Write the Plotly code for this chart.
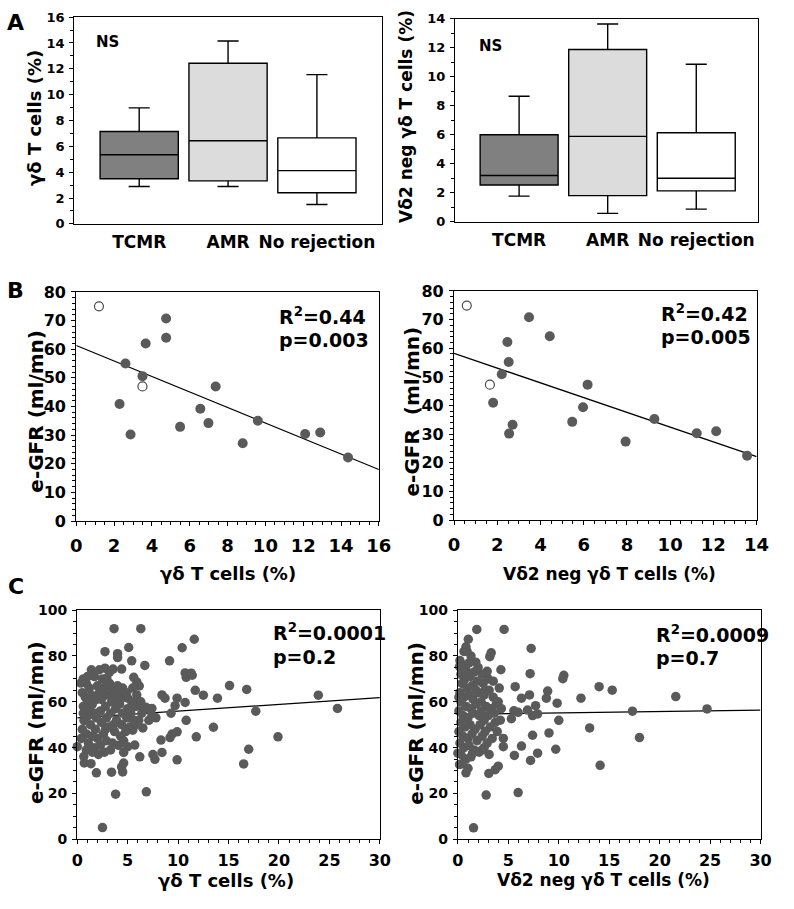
import plotly.graph_objects as go

# ---------------- Panel A data (box plots) ----------------
groups = ["TCMR", "AMR", "No rejection"]
group_pos = [1, 2, 3]
group_colors = ["#808080", "#dcdcdc", "#ffffff"]

gd_low = [2.9, 2.9, 1.5]
gd_q1 = [3.5, 3.33, 2.41]
gd_med = [5.35, 6.43, 4.12]
gd_q3 = [7.15, 12.43, 6.66]
gd_high = [8.98, 14.15, 11.55]

vd2_low = [1.77, 0.58, 0.87]
vd2_q1 = [2.54, 1.80, 2.13]
vd2_med = [3.19, 5.89, 3.0]
vd2_q3 = [6.0, 11.88, 6.14]
vd2_high = [8.66, 13.64, 10.86]

# ---------------- Panel B data ----------------
bL_x = [4.75, 4.75, 3.67, 2.6, 3.5, 2.29, 2.87, 7.37, 6.56, 6.99, 5.49, 8.8, 9.6, 12.1, 12.9, 14.37]
bL_y = [70.7, 64, 62, 55, 50.6, 40.9, 30.2, 47, 39.2, 34.2, 32.9, 27.2, 35, 30.4, 30.9, 22.2]
bL_open_x = [1.2, 3.5]
bL_open_y = [75, 47]
bL_fit_x = [0, 16]
bL_fit_y = [61.3, 18.0]

bR_x = [3.47, 4.43, 2.47, 2.53, 2.21, 1.81, 2.55, 2.71, 6.18, 5.97, 5.47, 7.94, 9.27, 11.23, 12.13, 13.56]
bR_y = [70.8, 64.2, 62.2, 55.2, 50.9, 41, 30.2, 33.3, 47.3, 39.4, 34.3, 27.4, 35.3, 30.3, 31, 22.5]
bR_open_x = [0.59, 1.66]
bR_open_y = [74.9, 47.3]
bR_fit_x = [0, 14]
bR_fit_y = [58.2, 22.2]

# ---------------- Panel C data ----------------
cL_points = [
    (3.65, 91.9), (6.3, 91.9), (11.6, 87.3), (2.75, 81.9), (5.1, 83.7), (4.0, 81), (4.0, 79.3),
    (5.4, 77.9), (6.7, 75.9), (9.15, 77.9), (10.4, 83.6), (2.75, 74.7), (3.55, 74.3), (4.4, 74.3),
    (1.03, 71.1), (5.6, 70.7), (5.9, 68.7), (6.15, 66.9), (10.7, 72.6), (10.8, 70.7), (11.4, 71.6),
    (11.7, 65), (12.5, 62.9), (15.1, 67.1), (16.8, 65.4), (13.9, 61.6), (8.4, 63), (8.7, 61.6),
    (9.9, 61.6), (10.7, 59.7), (5.0, 61.6), (6.0, 60), (7.0, 57.1), (7.4, 57.1), (7.8, 53),
    (9.3, 55), (9.7, 58.3), (10.8, 51.9), (17.7, 55.9), (23.9, 62.9), (25.8, 57.1), (13.5, 48.9),
    (11.8, 44.7), (19.9, 44.7), (17.0, 39.3), (16.5, 32.9), (9.9, 34.7), (9.2, 44.4), (9.4, 45.9),
    (9.9, 46.9), (8.3, 43.3), (8.4, 37.9), (7.5, 37), (7.7, 34.9), (6.2, 36), (5.7, 41.1),
    (5.0, 40.4), (4.6, 37.9), (4.6, 33.3), (4.4, 31.6), (4.5, 29.4), (3.4, 29.3), (1.9, 29),
    (0.7, 33.3), (1.36, 33), (0.65, 36.1), (0.0, 40.4), (3.8, 19.7), (6.85, 20.7), (2.5, 5.1),
    (5.5, 47.6), (5.7, 49.7), (6.5, 48.6), (7.1, 51.9), (7.4, 54), (6.8, 57.6), (0.36, 68.2),
    (2.93, 70.4), (3.1, 68.2), (2.93, 66.8), (11.3, 72.5), (0.68, 51.8),
    (0.6, 70), (0.9, 68), (1.2, 66), (0.5, 64), (0.8, 62), (1.4, 63), (1.0, 60), (0.6, 58),
    (1.5, 59), (1.9, 61), (2.2, 64), (2.6, 66), (2.0, 67), (3.0, 63), (3.4, 60), (2.8, 58),
    (2.3, 56), (1.7, 55), (1.1, 54), (0.7, 52), (1.3, 50), (1.8, 48), (2.4, 51), (2.9, 53),
    (3.3, 55), (3.8, 57), (4.2, 59), (4.6, 62), (4.0, 64), (3.6, 66), (3.2, 68), (2.5, 70),
    (1.7, 71), (3.9, 52), (4.4, 50), (4.9, 53), (5.3, 55), (5.6, 52), (5.2, 49), (4.8, 47),
    (4.3, 45), (3.7, 47), (3.1, 49), (2.6, 46), (2.0, 44), (1.5, 45), (0.9, 46), (0.5, 48),
    (0.4, 44), (1.1, 42), (1.7, 40), (2.3, 41), (2.9, 43), (3.5, 42), (4.1, 41), (4.6, 43),
    (3.3, 39), (2.7, 38), (2.1, 37), (1.5, 38), (0.9, 39), (6.1, 52), (6.4, 55), (5.8, 58),
    (5.4, 60), (5.0, 57), (4.5, 55), (3.9, 61), (3.5, 64), (2.4, 61), (1.9, 53), (1.2, 57),
    (0.6, 55), (2.8, 48), (3.6, 50), (4.0, 67), (4.5, 66), (2.2, 74), (3.2, 73), (1.4, 74),
    (5.9, 63), (6.3, 60), (4.9, 64), (5.5, 66), (6.6, 57),
]
cL_fit_x = [0, 30]
cL_fit_y = [53.0, 61.8]

cR_points = [
    (1.87, 91.6), (4.58, 91.6), (1.03, 87.3), (0.8, 84), (0.9, 82.1), (7.26, 83.3), (3.3, 81.4),
    (3.16, 79.7), (0.16, 75.4), (1.77, 77.3), (2.9, 73.3), (4.26, 74), (7.16, 72.3), (10.5, 71.6),
    (10.4, 70.1), (5.68, 66.6), (14.0, 66.6), (15.3, 65.1), (21.6, 62.3), (8.9, 64.7), (8.77, 61.6),
    (7.1, 63), (6.3, 61.6), (9.84, 59.4), (12.2, 61.6), (7.7, 58.3), (17.3, 55.9), (24.7, 56.9),
    (5.55, 56.1), (5.3, 52.6), (5.97, 55.4), (6.9, 56.4), (7.4, 54), (7.9, 54.7), (10.0, 51.9),
    (13.06, 48.6), (18.0, 44.4), (9.03, 46.4), (7.4, 45.4), (9.7, 39.3), (7.9, 37.6), (7.2, 34.4),
    (6.3, 40.7), (5.6, 36.6), (4.5, 44), (4.5, 40.4), (4.0, 31.9), (3.7, 30.4), (3.06, 28.7),
    (14.1, 32.3), (2.8, 19.3), (5.97, 20.4), (1.55, 5), (0.8, 29), (0.16, 32.6), (0.0, 37.6),
    (1.45, 37.6), (2.4, 39),
    (0.2, 78), (0.5, 76), (0.8, 74), (1.1, 77), (0.3, 72), (0.7, 70), (1.2, 71), (1.6, 73),
    (2.0, 75), (2.4, 72), (0.4, 68), (0.9, 66), (1.4, 67), (1.9, 69), (2.5, 68), (3.0, 70),
    (0.2, 64), (0.6, 62), (1.1, 63), (1.5, 61), (2.0, 64), (2.6, 63), (3.1, 65), (3.5, 62),
    (0.3, 60), (0.8, 58), (1.3, 57), (1.8, 59), (2.3, 60), (2.8, 58), (3.3, 57), (3.8, 59),
    (0.1, 56), (0.5, 54), (1.0, 53), (1.5, 55), (2.1, 54), (2.6, 52), (3.0, 54), (3.6, 55),
    (0.3, 51), (0.7, 49), (1.2, 50), (1.7, 48), (2.2, 50), (2.7, 47), (3.2, 49), (3.7, 51),
    (0.1, 47), (0.5, 45), (1.0, 44), (1.4, 46), (1.9, 43), (2.4, 45), (2.9, 42), (3.4, 44),
    (0.2, 42), (0.6, 40), (1.1, 41), (1.6, 39), (2.1, 38), (2.6, 40), (3.1, 37), (0.3, 37),
    (0.8, 35), (1.3, 36), (0.4, 33), (1.0, 31), (4.0, 60), (4.3, 57), (3.9, 47), (4.2, 52),
    (2.7, 65), (1.3, 80), (0.6, 82), (3.5, 69), (4.1, 66), (0.1, 62), (1.8, 65), (2.3, 56),
]
cR_fit_x = [0, 30]
cR_fit_y = [54.5, 56.4]

cL_x = [p[0] for p in cL_points]
cL_y = [p[1] for p in cL_points]
cR_x = [p[0] for p in cR_points]
cR_y = [p[1] for p in cR_points]

# ---------------- styling ----------------
W, H = 794, 909
FONT = "DejaVu Sans"
DOT = "#5a5a5a"


def PX(px):
    return px / W


def PY(py):
    return 1 - py / H


fig = go.Figure()

# Panel A boxes
for i in range(3):
    fig.add_trace(go.Box(
        x=[group_pos[i]], q1=[gd_q1[i]], median=[gd_med[i]], q3=[gd_q3[i]],
        lowerfence=[gd_low[i]], upperfence=[gd_high[i]],
        fillcolor=group_colors[i], line=dict(color="black", width=1.4),
        width=0.88, whiskerwidth=0.27, boxpoints=False, showlegend=False,
        hoverinfo="skip", xaxis="x", yaxis="y"))
    fig.add_trace(go.Box(
        x=[group_pos[i]], q1=[vd2_q1[i]], median=[vd2_med[i]], q3=[vd2_q3[i]],
        lowerfence=[vd2_low[i]], upperfence=[vd2_high[i]],
        fillcolor=group_colors[i], line=dict(color="black", width=1.4),
        width=0.88, whiskerwidth=0.27, boxpoints=False, showlegend=False,
        hoverinfo="skip", xaxis="x2", yaxis="y2"))


def add_scatter(xs, ys, ax, ay, size, open_=False):
    if open_:
        marker = dict(size=size, color="white", line=dict(color="#4a4a4a", width=1.2))
    else:
        marker = dict(size=size, color=DOT, line=dict(width=0))
    fig.add_trace(go.Scatter(x=xs, y=ys, mode="markers", marker=marker,
                             showlegend=False, cliponaxis=False,
                             xaxis=ax, yaxis=ay, hoverinfo="skip"))


def add_fit(xs, ys, ax, ay):
    fig.add_trace(go.Scatter(x=xs, y=ys, mode="lines",
                             line=dict(color="black", width=1.3),
                             showlegend=False, cliponaxis=True,
                             xaxis=ax, yaxis=ay, hoverinfo="skip"))


add_fit(bL_fit_x, bL_fit_y, "x3", "y3")
add_scatter(bL_x, bL_y, "x3", "y3", 10)
add_scatter(bL_open_x, bL_open_y, "x3", "y3", 9, open_=True)

add_fit(bR_fit_x, bR_fit_y, "x4", "y4")
add_scatter(bR_x, bR_y, "x4", "y4", 10)
add_scatter(bR_open_x, bR_open_y, "x4", "y4", 9, open_=True)

add_fit(cL_fit_x, cL_fit_y, "x5", "y5")
add_scatter(cL_x, cL_y, "x5", "y5", 9.5)

add_fit(cR_fit_x, cR_fit_y, "x6", "y6")
add_scatter(cR_x, cR_y, "x6", "y6", 9.5)


def axis(domain, anchor, rng, dtick=None, minor=None, fsize=13, standoff=2,
         tickvals=None, ticktext=None, ticks="outside"):
    d = dict(domain=domain, anchor=anchor, range=rng, showline=True,
             linecolor="black", linewidth=1.2, mirror=True, showgrid=False,
             zeroline=False, ticks=ticks, ticklen=4, tickcolor="black", tickwidth=1,
             ticklabelstandoff=standoff,
             tickfont=dict(family=FONT, size=fsize, color="black", weight="bold"))
    if dtick is not None:
        d["dtick"] = dtick
        d["tick0"] = 0
    if minor is not None:
        d["minor"] = dict(dtick=minor, tick0=0, ticks="outside", ticklen=3,
                          tickcolor="black", showgrid=False)
    if tickvals is not None:
        d["tickmode"] = "array"
        d["tickvals"] = tickvals
        d["ticktext"] = ticktext
    return d


layout = dict(
    width=W, height=H, margin=dict(l=0, r=0, t=0, b=0),
    paper_bgcolor="white", plot_bgcolor="white", showlegend=False,
    boxmode="overlay",
    # Panel A
    xaxis=axis([PX(70), PX(385)], "y", [0.27, 3.73], fsize=17, standoff=3,
               tickvals=group_pos, ticktext=groups, ticks=""),
    yaxis=axis([PY(219.5), PY(8.3)], "x", [0, 16], dtick=2, minor=1, fsize=13),
    xaxis2=axis([PX(460), PX(770.7)], "y2", [0.276, 3.70], fsize=17, standoff=3,
                tickvals=group_pos, ticktext=groups, ticks=""),
    yaxis2=axis([PY(217.3), PY(10)], "x2", [0, 14], dtick=2, minor=1, fsize=13),
    # Panel B
    xaxis3=axis([PX(72), PX(382)], "y3", [0, 16], dtick=2, minor=0.5, fsize=18, standoff=4),
    yaxis3=axis([PY(523), PY(289)], "x3", [0, 80], dtick=10, minor=2, fsize=16),
    xaxis4=axis([PX(459), PX(769)], "y4", [0, 14], dtick=2, minor=0.5, fsize=18, standoff=4),
    yaxis4=axis([PY(522), PY(288)], "x4", [0, 80], dtick=10, minor=2, fsize=16),
    # Panel C
    xaxis5=axis([PX(73), PX(383)], "y5", [0, 30], dtick=5, minor=1, fsize=16, standoff=2),
    yaxis5=axis([PY(848), PY(614)], "x5", [0, 100], dtick=20, minor=5, fsize=14),
    xaxis6=axis([PX(463), PX(773)], "y6", [0, 30], dtick=5, minor=1, fsize=16, standoff=2),
    yaxis6=axis([PY(848), PY(614)], "x6", [0, 100], dtick=20, minor=5, fsize=14),
)
fig.update_layout(**layout)


def note(text, px, py, size, angle=0, xanchor="center"):
    fig.add_annotation(text=text, x=PX(px), y=PY(py), xref="paper", yref="paper",
                       showarrow=False, textangle=angle, xanchor=xanchor, yanchor="middle",
                       font=dict(family=FONT, size=size, color="black", weight="bold"))


# panel letters
note("A", 10, 14, 22)
note("B", 10, 288, 22)
note("C", 10, 590, 22)

# NS labels
note("NS", 103.5, 34, 15)
note("NS", 496.7, 37.5, 15)

# axis titles panel A
note("γδ T cells (%)", 29, 111, 18, angle=-90)
note("Vδ2 neg γδ T cells (%)", 410, 110, 17, angle=-90)

# axis titles panel B
note("e-GFR (ml/mn)", 31, 411, 20, angle=-90)
note("e-GFR  (ml/mn)", 416, 411, 20, angle=-90)
note("γδ T cells (%)", 227, 577, 18)
note("Vδ2 neg γδ T cells (%)", 618, 577, 17)

# axis titles panel C
note("e-GFR (ml/mn)", 31, 729, 20, angle=-90)
note("e-GFR (ml/mn)", 420, 729, 20, angle=-90)
note("γδ T cells (%)", 225, 890, 18)
note("Vδ2 neg γδ T cells (%)", 612, 890, 17)

# statistics
note("R<sup>2</sup>=0.44", 278, 314, 19, xanchor="left")
note("p=0.003", 278, 338, 19, xanchor="left")
note("R<sup>2</sup>=0.42", 669, 311, 19, xanchor="left")
note("p=0.005", 669, 335, 19, xanchor="left")
note("R<sup>2</sup>=0.0001", 271, 636, 19, xanchor="left")
note("p=0.2", 271, 662, 19, xanchor="left")
note("R<sup>2</sup>=0.0009", 664, 638, 19, xanchor="left")
note("p=0.7", 664, 663, 19, xanchor="left")

fig.write_html("out.html", config={"displayModeBar": False},
               post_script="document.body.style.margin='0';document.body.style.overflow='hidden';")
